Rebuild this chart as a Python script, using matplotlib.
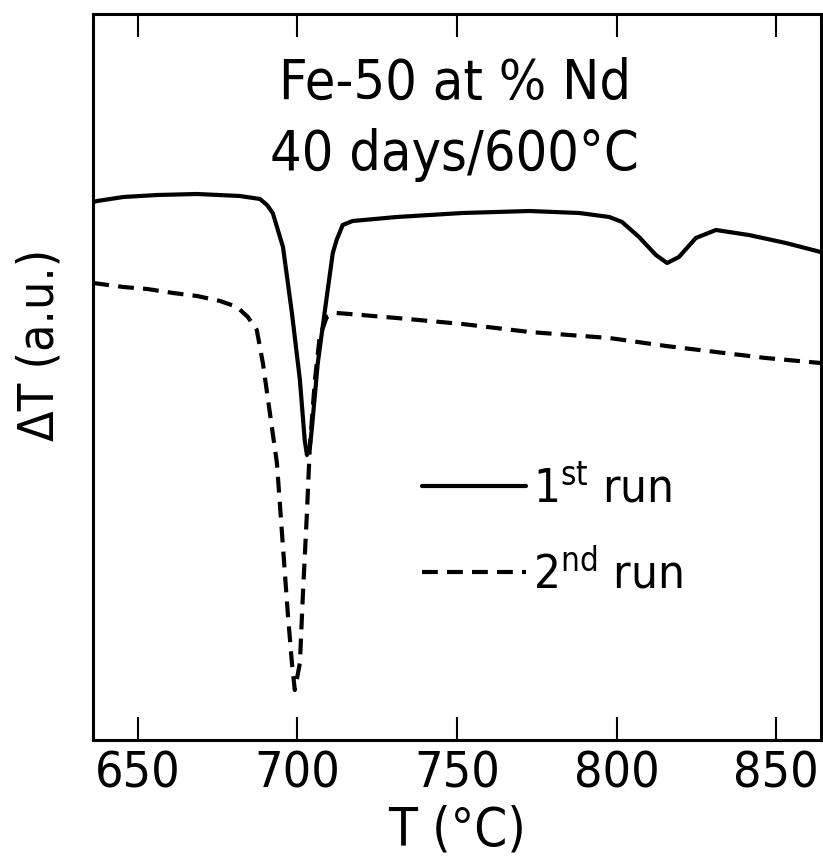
import matplotlib
matplotlib.use("Agg")
import matplotlib.pyplot as plt

plt.rcParams['font.family'] = ['DejaVu Sans']
plt.rcParams['font.stretch'] = 'condensed'
plt.rcParams['mathtext.fontset'] = 'custom'
plt.rcParams['mathtext.rm'] = 'DejaVu Sans:stretch=condensed'
plt.rcParams['mathtext.it'] = 'DejaVu Sans:stretch=condensed'

# 1st run (solid)
run1_T = [636.1, 637.3, 645.5, 656.1, 668.6, 682.0, 688.3, 690.5, 692.3, 695.5,
          698.3, 700.8, 702.3, 703.0, 703.9, 704.5, 706.4, 709.2, 711.1, 712.3,
          714.2, 717.3, 731.1, 751.7, 772.7, 788.3, 797.7, 801.7, 807.0, 812.3,
          815.8, 819.5, 824.8, 831.1, 841.4, 853.0, 863.9]
run1_dT = [5.38, 5.39, 5.43, 5.45, 5.46, 5.44, 5.41, 5.35, 5.27, 4.93,
           4.27, 3.60, 3.00, 2.85, 2.92, 3.10, 3.77, 4.43, 4.87, 5.00,
           5.15, 5.19, 5.23, 5.27, 5.29, 5.27, 5.23, 5.18, 5.03, 4.85,
           4.77, 4.83, 5.02, 5.10, 5.05, 4.97, 4.88]

# 2nd run (dashed)
run2_T = [636.1, 645.5, 653.0, 661.1, 668.6, 675.8, 681.1, 684.5, 687.3, 689.2,
          691.4, 693.6, 695.5, 697.0, 698.3, 699.2, 700.8, 701.7, 703.0, 703.9,
          705.5, 707.0, 709.2, 712.3, 716.4, 731.1, 751.7, 772.7, 797.7, 815.5,
          831.1, 846.7, 863.9]
run2_dT = [4.57, 4.53, 4.51, 4.47, 4.44, 4.39, 4.33, 4.23, 4.10, 3.77,
           3.27, 2.77, 1.93, 1.27, 0.77, 0.50, 0.77, 1.43, 2.27, 2.93,
           3.60, 4.03, 4.23, 4.27, 4.26, 4.22, 4.16, 4.08, 4.02, 3.94,
           3.88, 3.82, 3.77]

xticks = [650, 700, 750, 800, 850]
xlim = (636, 864)
ylim = (0, 7.26)

fig = plt.figure(figsize=(8.23, 8.63), dpi=100)
ax = fig.add_axes([93/823, 1-740/863, (821-93)/823, (740-14)/863])

ax.plot(run1_T, run1_dT, color='black', lw=3.0, solid_capstyle='round',
        solid_joinstyle='round', label=r'1$^{\rm st}$ run')
ax.plot(run2_T, run2_dT, color='black', lw=3.0, linestyle=(0, (3.8, 2.2)),
        dash_capstyle='butt', label=r'2$^{\rm nd}$ run')

ax.set_xlim(*xlim)
ax.set_ylim(*ylim)
ax.set_xticks(xticks)
ax.set_xticklabels([str(t) for t in xticks])
ax.set_yticks([])
ax.tick_params(axis='x', direction='in', length=16.5, width=1.5, top=True,
               bottom=True, labelsize=36, pad=7)
for s in ax.spines.values():
    s.set_linewidth(2.2)

ax.set_xlabel('T (°C)', fontsize=38, labelpad=5)
ax.set_ylabel('ΔT (a.u.)', fontsize=36)
ax.yaxis.set_label_coords(-0.040, 0.544)

ax.text(0.497, 0.941, 'Fe-50 at % Nd\n40 days/600°C', transform=ax.transAxes,
        ha='center', va='top', fontsize=40, linespacing=1.42)

leg = ax.legend(loc='center left', bbox_to_anchor=(0.452, 0.2865), frameon=False,
                fontsize=34, handlelength=2.2, handletextpad=0.15,
                labelspacing=0.78, borderpad=0, borderaxespad=0)

fig.savefig('out.png', dpi=100)
